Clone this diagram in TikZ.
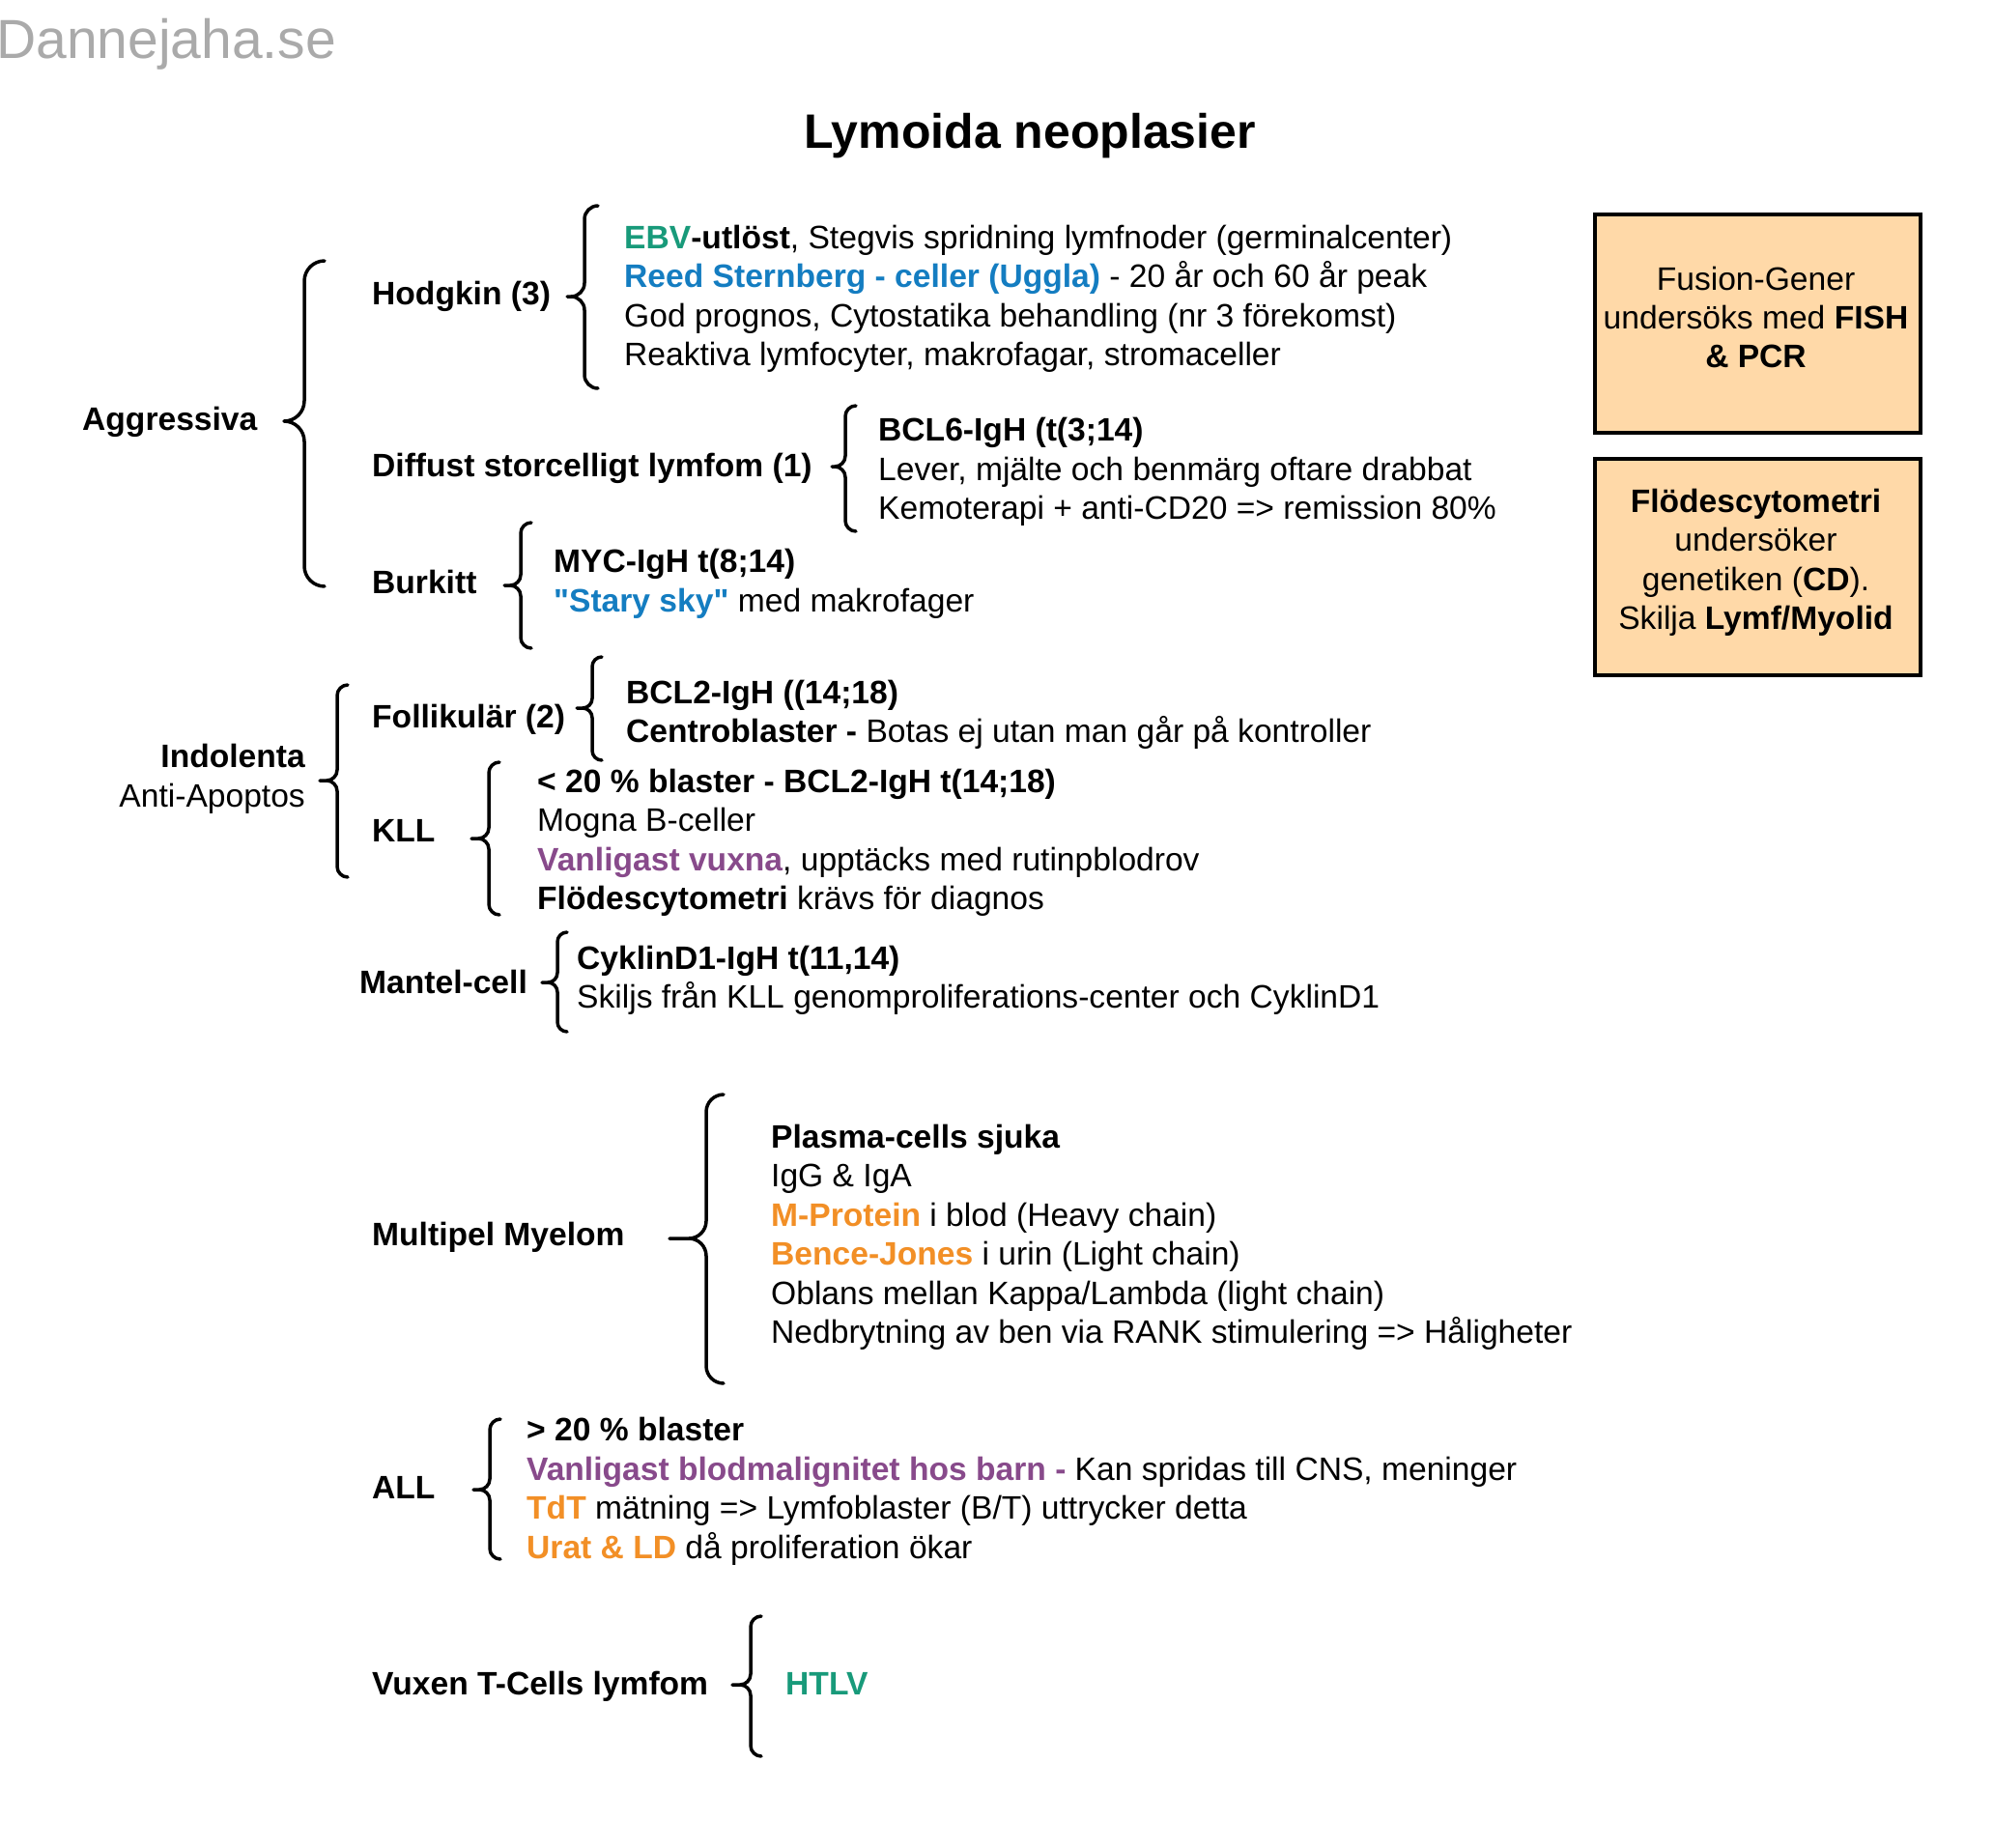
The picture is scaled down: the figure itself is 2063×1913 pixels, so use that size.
\documentclass[tikz,border=0pt]{standalone}
\usepackage{fontspec}
\setmainfont{Liberation Sans}[Ligatures=TeXOff]
\definecolor{cgreen}{RGB}{24,154,122}
\definecolor{cblue}{RGB}{20,125,193}
\definecolor{cpurple}{RGB}{136,74,139}
\definecolor{corange}{RGB}{242,143,38}
\definecolor{cbox}{RGB}{255,217,168}
\definecolor{cwater}{RGB}{170,170,170}
\newcommand{\fs}{\fontsize{33.6}{40.4}\selectfont}
% #1 xtip, #2 xmid, #3 xend, #4 ytop, #5 ytip, #6 ybottom
\newcommand{\mybrace}[6]{%
  \draw[bracestyle] ({#3},{-(#4)}) arc[start angle=90,end angle=180,radius={#3-#2}]
    -- ({#2},{-(#5)+(#3-#2)}) arc[start angle=0,end angle=-90,radius={#3-#2}]
    -- ({#1},{-(#5)}) -- ({2*#2-#3},{-(#5)})
    arc[start angle=90,end angle=0,radius={#3-#2}]
    -- ({#2},{-(#6)+(#3-#2)}) arc[start angle=180,end angle=270,radius={#3-#2}];}
\tikzset{
  txt/.style={anchor=base west, inner sep=0pt, font=\fs},
  bld/.style={txt, font=\fs\bfseries},
  ctr/.style={anchor=base, inner sep=0pt, font=\fs},
  bracestyle/.style={line width=3.5pt, line cap=round, line join=round},
  infobox/.style={draw=black, line width=3.5pt, fill=cbox, anchor=north west,
    minimum width=337pt, minimum height=226pt, inner sep=0pt},
}
\begin{document}
\begin{tikzpicture}[x=1pt,y=1pt]
\fill[white] (0,0) rectangle (2063,-1913);
\useasboundingbox (0,0) rectangle (2063,-1913);

\node[anchor=base west, inner sep=0pt, font=\fontsize{57}{68}\selectfont, text=cwater] (wm) at (-4,-61) {Dannejaha.se};
\node[anchor=base, inner sep=0pt, font=\fontsize{50}{60}\selectfont\bfseries] (title) at (1066,-154) {Lymoida neoplasier};

% Aggressiva
\node[bld] (aggr) at (85,-445) {Aggressiva};
\mybrace{295}{315}{336}{270}{436}{607}

% Hodgkin
\node[bld] (hodg) at (385,-315) {Hodgkin (3)};
\mybrace{587}{605}{619}{213}{307}{402}
\node[txt] (h1) at (646,-257) {{\color{cgreen}\bfseries EBV}{\bfseries -utlöst}, Stegvis spridning lymfnoder (germinalcenter)};
\node[txt] (h2) at (646,-297) {{\color{cblue}\bfseries Reed Sternberg - celler (Uggla)} - 20 år och 60 år peak};
\node[txt] (h3) at (646,-338) {God prognos, Cytostatika behandling (nr 3 förekomst)};
\node[txt] (h4) at (646,-378) {Reaktiva lymfocyter, makrofagar, stromaceller};

% Diffust
\node[bld] (dlbc) at (385,-493) {Diffust storcelligt lymfom (1)};
\mybrace{861}{875}{886}{420}{483}{550}
\node[bld] (d1) at (909,-456) {BCL6-IgH (t(3;14)};
\node[txt] (d2) at (909,-497) {Lever, mjälte och benmärg oftare drabbat};
\node[txt] (d3) at (909,-537) {Kemoterapi + anti-CD20 => remission 80\%};

% Burkitt
\node[bld] (burk) at (385,-614) {Burkitt};
\mybrace{522}{539}{550}{541}{606}{671}
\node[bld] (b1) at (573,-592) {MYC-IgH t(8;14)};
\node[txt] (b2) at (573,-633) {{\color{cblue}\bfseries "Stary sky"} med makrofager};

% Indolenta
\node[anchor=base east, inner sep=0pt, font=\fs\bfseries] (indo) at (316,-794) {Indolenta};
\node[anchor=base east, inner sep=0pt, font=\fs] (anti) at (316,-835) {Anti-Apoptos};
\mybrace{331}{349}{360}{709}{808}{908}

% Follikulär
\node[bld] (foll) at (385,-753) {Follikulär (2)};
\mybrace{597}{613}{623}{680}{733}{787}
\node[bld] (f1) at (648,-728) {BCL2-IgH ((14;18)};
\node[txt] (f2) at (648,-768) {{\bfseries Centroblaster -} Botas ej utan man går på kontroller};

% KLL
\node[bld] (kll) at (385,-871) {KLL};
\mybrace{488}{506}{517}{789}{868}{947}
\node[bld] (k1) at (556,-820) {< 20 \% blaster - BCL2-IgH t(14;18)};
\node[txt] (k2) at (556,-860) {Mogna B-celler};
\node[txt] (k3) at (556,-901) {{\color{cpurple}\bfseries Vanligast vuxna}, upptäcks med rutinpblodrov};
\node[txt] (k4) at (556,-941) {{\bfseries Flödescytometri} krävs för diagnos};

% Mantel-cell
\node[bld] (mant) at (372,-1028) {Mantel-cell};
\mybrace{561}{577}{587}{965}{1017}{1068}
\node[bld] (m1) at (597,-1003) {CyklinD1-IgH t(11,14)};
\node[txt] (m2) at (597,-1043) {Skiljs från KLL genomproliferations-center och CyklinD1};

% Multipel Myelom
\node[bld] (mm) at (385,-1289) {Multipel Myelom};
\mybrace{693}{731}{749}{1133}{1282}{1432}
\node[bld] (mm1) at (798,-1188) {Plasma-cells sjuka};
\node[txt] (mm2) at (798,-1228) {IgG \& IgA};
\node[txt] (mm3) at (798,-1269) {{\color{corange}\bfseries M-Protein} i blod (Heavy chain)};
\node[txt] (mm4) at (798,-1309) {{\color{corange}\bfseries Bence-Jones} i urin (Light chain)};
\node[txt] (mm5) at (798,-1350) {Oblans mellan Kappa/Lambda (light chain)};
\node[txt] (mm6) at (798,-1390) {Nedbrytning av ben via RANK stimulering => Håligheter};

% ALL
\node[bld] (all) at (385,-1551) {ALL};
\mybrace{490}{507}{518}{1469}{1542}{1614}
\node[bld] (a1) at (545,-1491) {> 20 \% blaster};
\node[txt] (a2) at (545,-1532) {{\color{cpurple}\bfseries Vanligast blodmalignitet hos barn -} Kan spridas till CNS, meninger};
\node[txt] (a3) at (545,-1572) {{\color{corange}\bfseries TdT} mätning => Lymfoblaster (B/T) uttrycker detta};
\node[txt] (a4) at (545,-1613) {{\color{corange}\bfseries Urat \& LD} då proliferation ökar};

% Vuxen T-Cells lymfom
\node[bld] (vux) at (385,-1754) {Vuxen T-Cells lymfom};
\mybrace{758}{777}{788}{1673}{1744}{1818}
\node[txt, font=\fs\bfseries, text=cgreen] (htlv) at (813,-1754) {HTLV};

% Boxes
\node[infobox] (box1) at (1649,-220) {};
\node[ctr] (bx11) at (1817.5,-300) {Fusion-Gener};
\node[ctr] (bx12) at (1817.5,-340) {undersöks med {\bfseries FISH}};
\node[ctr] (bx13) at (1817.5,-380) {{\bfseries \& PCR}};

\node[infobox, minimum height=224pt] (box2) at (1649,-473) {};
\node[ctr] (bx21) at (1817.5,-530) {{\bfseries Flödescytometri}};
\node[ctr] (bx22) at (1817.5,-570) {undersöker};
\node[ctr] (bx23) at (1817.5,-611) {genetiken ({\bfseries CD}).};
\node[ctr] (bx24) at (1817.5,-651) {Skilja {\bfseries Lymf/Myolid}};
\end{tikzpicture}
\end{document}
